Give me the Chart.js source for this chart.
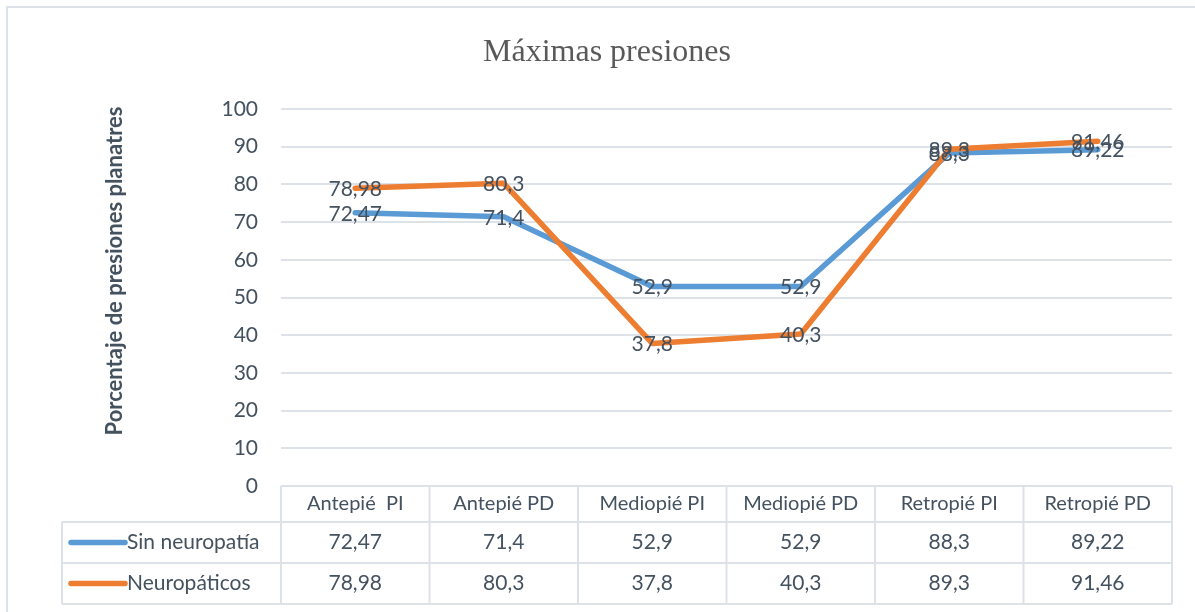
<!DOCTYPE html>
<html>
<head>
<meta charset="utf-8">
<script src="https://cdn.jsdelivr.net/npm/chart.js@4/dist/chart.umd.min.js"></script>
<style>
  html, body { margin: 0; padding: 0; background: #fff; }
</style>
</head>
<body>
<canvas id="presionesChart" width="1195" height="612"></canvas>
<script>
// data
var categories = ['Antepié  PI', 'Antepié PD', 'Mediopié PI', 'Mediopié PD', 'Retropié PI', 'Retropié PD'];
var sinNeuropatia = [72.47, 71.4, 52.9, 52.9, 88.3, 89.22];
var neuropaticos = [78.98, 80.3, 37.8, 40.3, 89.3, 91.46];
var seriesNames = ['Sin neuropatía', 'Neuropáticos'];
var seriesColors = ['#5B9BD5', '#ED7D31'];
var yMin = 0, yMax = 100, yStep = 10;

var chartTitle = 'Máximas presiones';
var yTitle = 'Porcentaje de presiones planatres';

var textColor = '#44515F';
var lineGray = '#DDE2E8';
var fontFamily = 'Lato, "Open Sans", sans-serif';

function fmt(v) {
    return String(v).replace('.', ',');
}

// border, title and y axis title
var framePlugin = {
    id: 'frame',
    beforeDraw: function(chart) {
        var ctx = chart.ctx;
        ctx.save();
        ctx.fillStyle = '#fff';
        ctx.fillRect(0, 0, chart.width, chart.height);
        ctx.strokeStyle = lineGray;
        ctx.lineWidth = 2;
        ctx.beginPath();
        ctx.moveTo(7, chart.height);
        ctx.lineTo(7, 7);
        ctx.lineTo(chart.width, 7);
        ctx.stroke();
        ctx.restore();
    },
    afterDraw: function(chart) {
        var ctx = chart.ctx;
        ctx.save();
        ctx.fillStyle = '#595959';
        ctx.font = '32px "Liberation Serif", "Times New Roman", serif';
        ctx.textAlign = 'center';
        ctx.textBaseline = 'middle';
        ctx.fillText(chartTitle, 607, 53);

        ctx.translate(115, 271);
        ctx.rotate(-Math.PI / 2);
        ctx.fillStyle = textColor;
        ctx.font = 'bold 22px ' + fontFamily;
        ctx.fillText(yTitle, 0, 0);
        ctx.restore();
    }
};

// value labels centred on each point
var labelPlugin = {
    id: 'pointLabels',
    afterDatasetsDraw: function(chart) {
        var ctx = chart.ctx;
        ctx.save();
        ctx.fillStyle = textColor;
        ctx.font = '21px ' + fontFamily;
        ctx.textAlign = 'center';
        ctx.textBaseline = 'middle';
        chart.data.datasets.forEach(function(ds, di) {
            var meta = chart.getDatasetMeta(di);
            meta.data.forEach(function(pt, i) {
                ctx.fillText(fmt(ds.data[i]), pt.x, pt.y + 1);
            });
        });
        ctx.restore();
    }
};

// data table under the x axis
var tablePlugin = {
    id: 'dataTable',
    afterDraw: function(chart) {
        var ctx = chart.ctx, x = chart.scales.x, area = chart.chartArea;
        var n = categories.length;
        var edges = [area.left];
        for (var i = 0; i < n - 1; i++) {
            edges.push((x.getPixelForValue(i) + x.getPixelForValue(i + 1)) / 2);
        }
        edges.push(area.right);

        var top = area.bottom, headerBottom = top + 36, rowH = 41, legendLeft = 62;
        var rows = [sinNeuropatia, neuropaticos];
        var bottom = headerBottom + rowH * rows.length;

        ctx.save();
        ctx.strokeStyle = lineGray;
        ctx.lineWidth = 2;
        ctx.beginPath();
        for (var r = 0; r <= rows.length; r++) {
            var yy = headerBottom + r * rowH;
            ctx.moveTo(legendLeft, yy);
            ctx.lineTo(area.right, yy);
        }
        edges.forEach(function(ex) {
            ctx.moveTo(ex, top);
            ctx.lineTo(ex, bottom);
        });
        ctx.moveTo(legendLeft, headerBottom);
        ctx.lineTo(legendLeft, bottom);
        ctx.stroke();

        ctx.textBaseline = 'middle';
        rows.forEach(function(vals, r) {
            var cy = headerBottom + r * rowH + rowH / 2;
            // legend key
            ctx.strokeStyle = seriesColors[r];
            ctx.lineWidth = 5.5;
            ctx.lineCap = 'round';
            ctx.beginPath();
            ctx.moveTo(71, cy);
            ctx.lineTo(125, cy);
            ctx.stroke();
            ctx.fillStyle = textColor;
            ctx.textAlign = 'left';
            ctx.font = '21px ' + fontFamily;
            ctx.fillText(seriesNames[r], 127, cy);
            ctx.textAlign = 'center';
            vals.forEach(function(v, i) {
                ctx.fillText(fmt(v), x.getPixelForValue(i), cy);
            });
        });
        ctx.restore();
    }
};

var ctx = document.getElementById('presionesChart').getContext('2d');

var presionesChart = new Chart(ctx, {
    type: 'line',
    data: {
        labels: categories,
        datasets: [{
            label: seriesNames[0],
            data: sinNeuropatia,
            borderColor: seriesColors[0],
            backgroundColor: seriesColors[0],
            borderWidth: 5.5,
            order: 1
        }, {
            label: seriesNames[1],
            data: neuropaticos,
            borderColor: seriesColors[1],
            backgroundColor: seriesColors[1],
            borderWidth: 5.5,
            order: 0
        }]
    },
    options: {
        responsive: false,
        animation: false,
        layout: { padding: { top: 109, left: 101, right: 23, bottom: 7 } },
        elements: {
            point: { radius: 0, hoverRadius: 0 },
            line: { tension: 0, borderCapStyle: 'round', borderJoinStyle: 'round' }
        },
        plugins: {
            legend: { display: false },
            tooltip: { enabled: false },
            title: { display: false }
        },
        scales: {
            x: {
                offset: true,
                grid: { display: false, drawTicks: false },
                border: { display: false },
                ticks: {
                    color: textColor,
                    font: { family: fontFamily, size: 20 },
                    padding: 6,
                    maxRotation: 0,
                    autoSkip: false
                },
                afterFit: function(scale) { scale.height = 119; }
            },
            y: {
                min: yMin,
                max: yMax,
                grid: { color: lineGray, lineWidth: 2, drawTicks: false },
                border: { display: false },
                ticks: {
                    stepSize: yStep,
                    color: textColor,
                    font: { family: fontFamily, size: 21 },
                    padding: 23
                },
                afterFit: function(scale) { scale.width = 180; }
            }
        }
    },
    plugins: [framePlugin, labelPlugin, tablePlugin]
});
</script>
</body>
</html>
